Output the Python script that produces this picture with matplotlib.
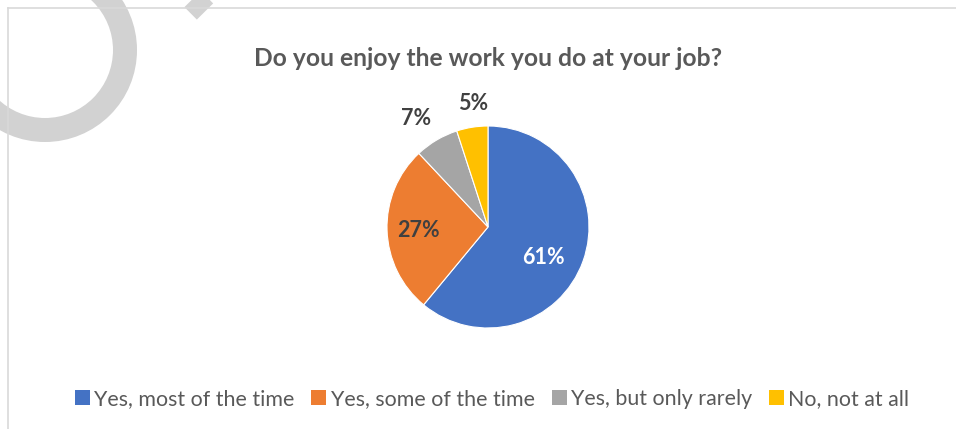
import matplotlib
matplotlib.use("Agg")
import matplotlib.pyplot as plt
from matplotlib.patches import Circle, Patch
from matplotlib.lines import Line2D

# Survey data
categories = ["Yes, most of the time", "Yes, some of the time",
              "Yes, but only rarely", "No, not at all"]
shares = [61, 27, 7, 5]
colors = ["#4472C4", "#ED7D31", "#A5A5A5", "#FFC000"]
label_colors = ["white", "#404040", "#404040", "#404040"]
title = "Do you enjoy the work you do at your job?"

W, H = 956, 429
fig = plt.figure(figsize=(W / 100, H / 100), dpi=100)
fig.patch.set_facecolor("white")

def px(x, y):
    return x / W, 1 - y / H

# chart frame (top and left edges visible)
fig.add_artist(Line2D([8 / W, 1], [1 - 8 / H] * 2, color="#d9d9d9", lw=1.2,
                      transform=fig.transFigure))
fig.add_artist(Line2D([8 / W] * 2, [0, 1 - 8 / H], color="#d9d9d9", lw=1.2,
                      transform=fig.transFigure))

# grey ring and stroke in the top-left corner
ovl = fig.add_axes([0, 0, 1, 1])
ovl.set_xlim(0, W)
ovl.set_ylim(H, 0)
ovl.axis("off")
ovl.add_patch(Circle((45, 50), 80, fill=False, ec="#cdcdcd", lw=24 * 72 / 100,
                     alpha=0.9))
ovl.plot([150, 205], [-44, 11.5], color="#cdcdcd", lw=23 * 72 / 100,
         solid_capstyle="butt", alpha=0.9)

# pie
cx, cy, r = 488, 227, 101
ax = fig.add_axes([(cx - r) / W, 1 - (cy + r) / H, 2 * r / W, 2 * r / H])
wedges, _ = ax.pie(shares, colors=colors, startangle=90, counterclock=False,
                   radius=1, wedgeprops=dict(edgecolor="white", linewidth=0.8))
ax.set_xlim(-1, 1)
ax.set_ylim(-1, 1)
ax.set_aspect("equal")

label_pos = [(0.55, -0.30), (-0.69, -0.03), (-0.71, 1.07), (-0.15, 1.22)]
for val, (lx, ly), c in zip(shares, label_pos, label_colors):
    ax.text(lx, ly, f"{val}%", ha="center", va="center", color=c,
            fontsize=15.5, fontweight="bold", family="Lato", clip_on=False)

fig.text(*px(488, 58), title, ha="center", va="center", fontsize=17.7,
         fontweight="bold", color="#595959", family="Lato")

handles = [Patch(facecolor=c, edgecolor="none") for c in colors]
leg = fig.legend(handles, categories, loc="center", bbox_to_anchor=px(492, 399),
                 ncol=4, frameon=False, handlelength=0.7, handleheight=0.7,
                 handletextpad=0.2, columnspacing=0.8,
                 prop=dict(family="Lato", size=15.4))
for t in leg.get_texts():
    t.set_color("#595959")

fig.savefig("out.png", dpi=100, facecolor="white")
